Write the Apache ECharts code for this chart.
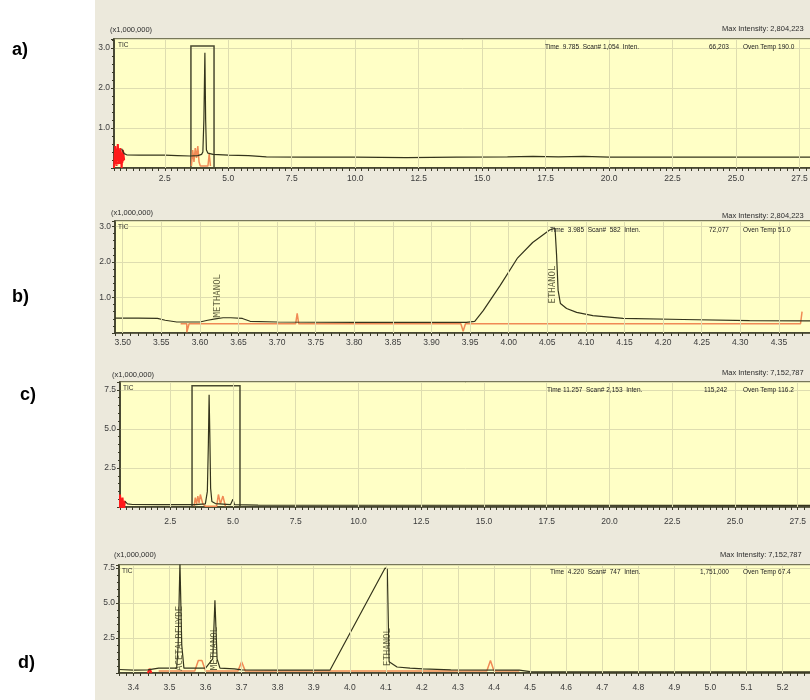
<!DOCTYPE html>
<html><head><meta charset="utf-8">
<script src="https://cdn.jsdelivr.net/npm/echarts/dist/echarts.min.js"></script>
<style>html,body{margin:0;padding:0;background:#fff}#c{width:810px;height:700px}</style>
</head><body><div id="c"></div>
<script>
// ---------- tick labels ----------
const xTicksA = [2.5,5.0,7.5,10.0,12.5,15.0,17.5,20.0,22.5,25.0,27.5];
const xTicksB = [3.50,3.55,3.60,3.65,3.70,3.75,3.80,3.85,3.90,3.95,4.00,4.05,4.10,4.15,4.20,4.25,4.30,4.35];
const xTicksC = [2.5,5.0,7.5,10.0,12.5,15.0,17.5,20.0,22.5,25.0,27.5];
const xTicksD = [3.4,3.5,3.6,3.7,3.8,3.9,4.0,4.1,4.2,4.3,4.4,4.5,4.6,4.7,4.8,4.9,5.0,5.1,5.2];
const yTicksAB = [1.0,2.0,3.0];
const yTicksCD = [2.5,5.0,7.5];

// ---------- traces (time min, intensity x1,000,000) ----------
const traceA = [[0.8,0.48],[0.9,0.36],[1.0,0.33],[1.5,0.32],[2.0,0.32],[2.5,0.32],[3.0,0.31],[3.5,0.30],[3.8,0.31],[3.95,0.34],[4.0,0.4],[4.04,1.2],[4.08,2.88],[4.11,1.2],[4.14,0.45],[4.2,0.37],[4.4,0.34],[5.0,0.32],[5.8,0.31],[6.5,0.28],[8,0.27],[10,0.27],[12,0.26],[14,0.27],[16,0.28],[17,0.29],[18,0.28],[19,0.29],[20,0.27],[24,0.27],[30,0.27]];
const orangeA = [[3.55,0.05],[3.6,0.45],[3.65,0.15],[3.7,0.5],[3.75,0.25],[3.8,0.55],[3.85,0.15],[3.9,0.05],[4.2,0.05],[4.25,0.35],[4.3,0.05]];
const redA = [[0.5,0.0],[0.55,0.55],[0.6,0.05],[0.65,0.6],[0.7,0.1],[0.75,0.5],[0.8,0.0],[0.85,0.45],[0.9,0.2],[0.6,0.3],[0.85,0.15],[0.55,0.1]];
const boxA = [3.53,4.44,3.05];

const traceB = [[3.49,0.42],[3.52,0.42],[3.545,0.41],[3.555,0.36],[3.57,0.31],[3.60,0.31],[3.61,0.36],[3.62,0.40],[3.63,0.43],[3.64,0.43],[3.655,0.41],[3.665,0.33],[3.70,0.31],[3.80,0.30],[3.90,0.30],[3.945,0.30],[3.956,0.33],[3.967,0.63],[3.989,1.34],[4.011,2.10],[4.031,2.55],[4.053,2.90],[4.060,2.95],[4.062,2.2],[4.064,1.2],[4.067,0.83],[4.075,0.69],[4.088,0.58],[4.109,0.49],[4.148,0.41],[4.226,0.38],[4.312,0.35],[4.40,0.34]];
const orangeB = [[3.575,0.26],[3.583,0.26],[3.583,0.02],[3.586,0.26],[3.724,0.26],[3.726,0.55],[3.728,0.26],[3.938,0.26],[3.941,0.05],[3.944,0.26],[4.378,0.26],[4.38,0.6]];
const labelsB = [{name:'METHANOL',value:[3.623,0.44]},{name:'ETHANOL',value:[4.057,0.83]}];

const traceC = [[0.7,0.35],[0.8,0.2],[1.0,0.16],[2.0,0.15],[3.5,0.15],[3.9,0.2],[3.98,1.0],[4.02,4.0],[4.05,7.18],[4.08,4.5],[4.11,1.2],[4.16,0.35],[4.3,0.22],[4.9,0.15],[5.0,0.5],[5.06,0.15],[6,0.12],[30,0.1]];
const orangeC = [[3.45,0.05],[3.5,0.6],[3.55,0.2],[3.6,0.7],[3.65,0.25],[3.7,0.8],[3.8,0.2],[3.9,0.05],[4.35,0.05],[4.42,0.8],[4.5,0.2],[4.6,0.7],[4.7,0.05]];
const redC = [[0.45,-0.2],[0.5,0.8],[0.55,-0.1],[0.6,0.6],[0.65,-0.2],[0.7,0.4]];
const boxC = [3.37,5.28,7.76];

const traceD = [[3.36,0.25],[3.40,0.2],[3.44,0.22],[3.47,0.35],[3.52,0.35],[3.524,2.0],[3.529,7.9],[3.534,2.0],[3.54,0.35],[3.60,0.35],[3.62,1.0],[3.626,5.2],[3.632,1.0],[3.64,0.35],[3.68,0.3],[3.70,0.22],[3.80,0.2],[3.945,0.2],[4.098,7.5],[4.104,7.4],[4.109,0.8],[4.131,0.43],[4.167,0.35],[4.203,0.29],[4.28,0.22],[4.47,0.2],[4.50,0.1],[5.30,0.08]];
const orangeD = [[3.47,0.15],[3.57,0.15],[3.58,0.9],[3.585,1.0],[3.59,0.9],[3.60,0.15],[3.69,0.15],[3.70,0.8],[3.71,0.15],[4.38,0.15],[4.39,0.9],[4.40,0.15],[4.47,0.15]];
const redD = [[3.44,0.0],[3.445,0.3],[3.45,0.0]];
const labelsD = [{name:'ACETALDEHYDE',value:[3.529,0.15]},{name:'METHANOL',value:[3.626,0.2]},{name:'ETHANOL',value:[4.104,0.5]}];

// ---------- panel setup ----------
const FONT = 'Arial, "Liberation Sans", sans-serif';
const AX = '#3a3a28';
function onTick(v, ticks){ return ticks.some(t => Math.abs(t - v) < 1e-6); }

const panels = [
  {grid:{left:114,top:39,width:749,height:129}, xmin:0.5,xmax:30,xstep:0.25,xt:xTicksA,xdec:1,xm:6, ymax:3.225,yint:1,yt:yTicksAB, tr:traceA, or:orangeA, rd:redA, box:boxA, lb:[]},
  {grid:{left:115,top:221,width:702.5,height:112}, xmin:3.49,xmax:4.40,xstep:0.01,xt:xTicksB,xdec:2,xm:5, ymax:3.155,yint:1,yt:yTicksAB, tr:traceB, or:orangeB, rd:[], box:null, lb:labelsB},
  {grid:{left:120,top:382,width:740.5,height:125}, xmin:0.5,xmax:30,xstep:0.25,xt:xTicksC,xdec:1,xm:10, ymax:8.0,yint:2.5,yt:yTicksCD, tr:traceC, or:orangeC, rd:redC, box:boxC, lb:[]},
  {grid:{left:119,top:565,width:699.6,height:108}, xmin:3.36,xmax:5.30,xstep:0.02,xt:xTicksD,xdec:1,xm:10, ymax:7.71,yint:2.5,yt:yTicksCD, tr:traceD, or:orangeD, rd:redD, box:null, lb:labelsD}
];

const grids=[], xAxes=[], yAxes=[], series=[];
panels.forEach((p,i)=>{
  grids.push(Object.assign({show:true, containLabel:false, outerBoundsMode:'none',
    backgroundColor:'#ffffc6', borderColor:'#77775a', borderWidth:2}, p.grid));
  xAxes.push({gridIndex:i, type:'value', min:p.xmin, max:p.xmax, interval:p.xstep,
    axisLine:{onZero:false, lineStyle:{color:AX, width:1.5}},
    axisTick:{show:true, length:3, lineStyle:{color:AX}},
    axisLabel:{fontSize:8.5, fontFamily:FONT, color:'#3c3c3c', margin:p.xm, hideOverlap:false,
      showMinLabel:true, showMaxLabel:true,
      formatter:v => onTick(v,p.xt) ? v.toFixed(p.xdec) : ''},
    splitLine:{show:false}});
  yAxes.push({gridIndex:i, type:'value', min:0, max:p.ymax, interval:p.yint,
    axisLine:{show:true, lineStyle:{color:AX, width:1.5}},
    axisTick:{show:true, length:3, lineStyle:{color:AX}},
    minorTick:{show:true, splitNumber:5, length:2, lineStyle:{color:AX}},
    axisLabel:{fontSize:8.5, fontFamily:FONT, color:'#3c3c3c', margin:4,
      formatter:v => onTick(v,p.yt) ? v.toFixed(1) : ''},
    splitLine:{show:true, lineStyle:{color:'#deddb0', width:1}}});
  series.push({type:'line', xAxisIndex:i, yAxisIndex:i, data:[], z:1, silent:true,
    markLine:{silent:true, symbol:'none', label:{show:false}, animation:false,
      lineStyle:{color:'#deddb0', type:'solid', width:1},
      data:p.xt.map(v=>({xAxis:v}))}});
  if (p.box) {
    series.push({type:'line', xAxisIndex:i, yAxisIndex:i, data:[], z:2, silent:true,
      markArea:{silent:true, itemStyle:{color:'rgba(0,0,0,0)', borderColor:'#4a4a30', borderWidth:1.5},
        data:[[{xAxis:p.box[0], yAxis:0},{xAxis:p.box[1], yAxis:p.box[2]}]]}});
  }
  series.push({type:'line', xAxisIndex:i, yAxisIndex:i, data:p.or, symbol:'none', z:3,
    lineStyle:{color:'#f08a55', width:1.5}});
  if (p.rd.length) series.push({type:'line', xAxisIndex:i, yAxisIndex:i, data:p.rd, symbol:'none', z:3,
    lineStyle:{color:'#ff1a1a', width:2}});
  series.push({type:'line', xAxisIndex:i, yAxisIndex:i, data:p.tr, symbol:'none', z:4,
    lineStyle:{color:'#34341c', width:1.2}});
  if (p.lb.length) series.push({type:'scatter', xAxisIndex:i, yAxisIndex:i, data:p.lb, symbolSize:0, z:5,
    label:{show:true, formatter:'{b}', rotate:90, position:'inside', align:'left', verticalAlign:'middle',
      fontSize:9, fontFamily:'"DejaVu Sans Mono", monospace', color:'#3a3a1e'}});
});

// ---------- texts ----------
const small = {fontSize:7.5, fontWeight:'normal', color:'#2c2c2c', fontFamily:FONT};
function T(text,left,top,style){ return {text, left, top, padding:0, textStyle:Object.assign({}, small, style||{})}; }
const big = {fontSize:18, fontWeight:'bold', color:'#000'};
const tl = {fontSize:6.5, color:'#222'};
const titles = [
  T('a)',12,41,big), T('b)',12,288,big), T('c)',20,386,big), T('d)',18,654,big),
  T('(x1,000,000)',110,26), T('(x1,000,000)',111,209), T('(x1,000,000)',112,371), T('(x1,000,000)',114,551),
  T('TIC',118,42,{fontSize:6.5}), T('TIC',118,224,{fontSize:6.5}), T('TIC',123,385,{fontSize:6.5}), T('TIC',122,568,{fontSize:6.5}),
  T('Max Intensity: 2,804,223',722,25), T('Max Intensity: 2,804,223',722,212),
  T('Max Intensity: 7,152,787',722,369), T('Max Intensity: 7,152,787',720,551),
  T('Time  9.785  Scan# 1,054  Inten.',545,44,tl), T('66,203',709,44,tl), T('Oven Temp 190.0',743,44,tl),
  T('Time  3.985  Scan#  582  Inten.',550,227,tl), T('72,077',709,227,tl), T('Oven Temp 51.0',743,227,tl),
  T('Time 11.257  Scan# 2,153  Inten.',547,387,tl), T('115,242',704,387,tl), T('Oven Temp 116.2',743,387,tl),
  T('Time  4.220  Scan#  747  Inten.',550,569,tl), T('1,751,000',700,569,tl), T('Oven Temp 67.4',743,569,tl)
];

const chart = echarts.init(document.getElementById('c'), null, {renderer:'canvas'});
chart.setOption({
  animation:false,
  backgroundColor:'#ece9dc',
  graphic:[{type:'rect', z:-1, shape:{x:0,y:0,width:95,height:700}, style:{fill:'#ffffff'}}],
  title:titles,
  grid:grids, xAxis:xAxes, yAxis:yAxes, series:series
});
</script></body></html>
